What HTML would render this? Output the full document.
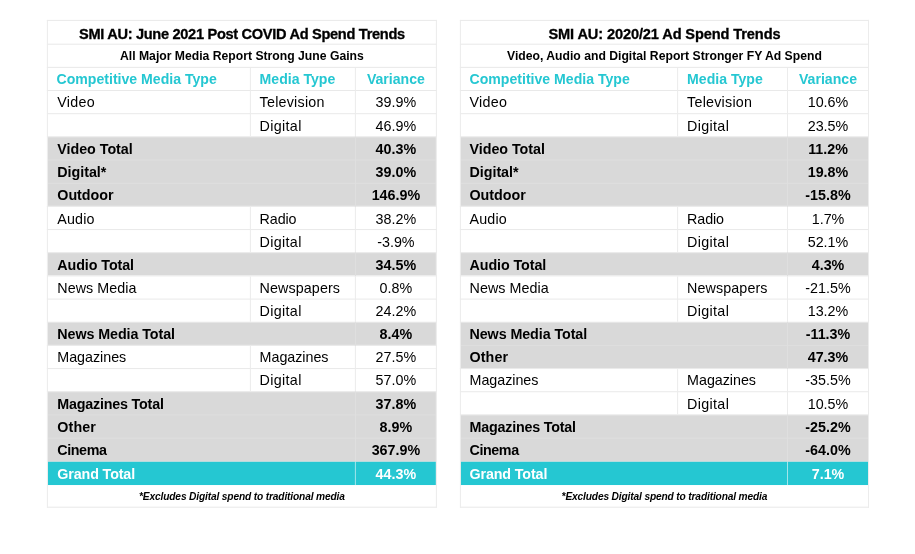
<!DOCTYPE html><html lang="en"><head><meta charset="utf-8"><title>SMI AU Ad Spend Trends</title><style>
html,body{margin:0;padding:0;background:#fff;}
body{width:915px;height:554px;position:relative;overflow:hidden;font-family:"Liberation Sans",sans-serif;color:#000;}
svg.grid{position:absolute;left:0;top:0;}
.tbl{position:absolute;top:0;left:0;}
.txt{position:absolute;white-space:nowrap;height:23px;line-height:23px;font-size:14.3px;}
.title{font-weight:bold;font-size:14.6px;letter-spacing:-0.31px;text-align:center;-webkit-text-stroke:0.3px #000;}
.sub{font-weight:bold;font-size:12.2px;text-align:center;}
.hdr{font-weight:bold;color:#25c7d2;font-size:14.1px;}
.b{font-weight:bold;}
.w{font-weight:bold;color:#fff;}
.c{text-align:center;}
.foot{font-weight:bold;font-style:italic;font-size:10.2px;letter-spacing:-0.15px;text-align:center;}
</style></head><body>
<svg class="grid" width="915" height="554" viewBox="0 0 915 554">
<rect x="47.9" y="136.78" width="388" height="69.11" fill="#d9d9d9"/>
<rect x="47.9" y="252.63" width="388" height="22.77" fill="#d9d9d9"/>
<rect x="47.9" y="322.14" width="388" height="22.77" fill="#d9d9d9"/>
<rect x="47.9" y="391.65" width="388" height="70.11" fill="#d9d9d9"/>
<rect x="47.9" y="461.76" width="388" height="23.27" fill="#25c7d2"/>
<rect x="46.9" y="19.9" width="390" height="1" fill="#e9e9e9"/>
<rect x="46.9" y="43.7" width="390" height="1" fill="#e9e9e9"/>
<rect x="46.9" y="66.87" width="390" height="1" fill="#e9e9e9"/>
<rect x="46.9" y="90.04" width="390" height="1" fill="#e9e9e9"/>
<rect x="46.9" y="113.21" width="390" height="1" fill="#e9e9e9"/>
<rect x="46.9" y="136.38" width="390" height="1" fill="#e9e9e9"/>
<rect x="47.9" y="159.55" width="388" height="1" fill="#dfdfdf"/>
<rect x="47.9" y="182.72" width="388" height="1" fill="#dfdfdf"/>
<rect x="46.9" y="205.89" width="390" height="1" fill="#e9e9e9"/>
<rect x="46.9" y="229.06" width="390" height="1" fill="#e9e9e9"/>
<rect x="46.9" y="252.23" width="390" height="1" fill="#e9e9e9"/>
<rect x="46.9" y="275.4" width="390" height="1" fill="#e9e9e9"/>
<rect x="46.9" y="298.57" width="390" height="1" fill="#e9e9e9"/>
<rect x="46.9" y="321.74" width="390" height="1" fill="#e9e9e9"/>
<rect x="46.9" y="344.91" width="390" height="1" fill="#e9e9e9"/>
<rect x="46.9" y="368.08" width="390" height="1" fill="#e9e9e9"/>
<rect x="46.9" y="391.25" width="390" height="1" fill="#e9e9e9"/>
<rect x="47.9" y="414.42" width="388" height="1" fill="#dfdfdf"/>
<rect x="47.9" y="437.59" width="388" height="1" fill="#dfdfdf"/>
<rect x="46.9" y="506.7" width="390" height="1" fill="#e9e9e9"/>
<rect x="46.9" y="19.9" width="1" height="487.8" fill="#ececec"/>
<rect x="435.9" y="19.9" width="1" height="487.8" fill="#ececec"/>
<rect x="249.9" y="67.87" width="1" height="68.51" fill="#ececec"/>
<rect x="354.9" y="67.87" width="1" height="68.51" fill="#ececec"/>
<rect x="354.9" y="136.38" width="1" height="70.51" fill="#dfdfdf"/>
<rect x="249.9" y="206.89" width="1" height="45.34" fill="#ececec"/>
<rect x="354.9" y="206.89" width="1" height="45.34" fill="#ececec"/>
<rect x="354.9" y="252.23" width="1" height="24.17" fill="#dfdfdf"/>
<rect x="249.9" y="276.4" width="1" height="45.34" fill="#ececec"/>
<rect x="354.9" y="276.4" width="1" height="45.34" fill="#ececec"/>
<rect x="354.9" y="321.74" width="1" height="24.17" fill="#dfdfdf"/>
<rect x="249.9" y="345.91" width="1" height="45.34" fill="#ececec"/>
<rect x="354.9" y="345.91" width="1" height="45.34" fill="#ececec"/>
<rect x="354.9" y="391.25" width="1" height="70.51" fill="#dfdfdf"/>
<rect x="354.9" y="461.76" width="1" height="23.27" fill="#a4e5ea"/>
<rect x="460.5" y="136.78" width="407.5" height="69.11" fill="#d9d9d9"/>
<rect x="460.5" y="252.63" width="407.5" height="22.77" fill="#d9d9d9"/>
<rect x="460.5" y="322.14" width="407.5" height="45.94" fill="#d9d9d9"/>
<rect x="460.5" y="414.82" width="407.5" height="46.94" fill="#d9d9d9"/>
<rect x="460.5" y="461.76" width="407.5" height="23.27" fill="#25c7d2"/>
<rect x="459.9" y="19.9" width="409.1" height="1" fill="#e9e9e9"/>
<rect x="459.9" y="43.7" width="409.1" height="1" fill="#e9e9e9"/>
<rect x="459.9" y="66.87" width="409.1" height="1" fill="#e9e9e9"/>
<rect x="459.9" y="90.04" width="409.1" height="1" fill="#e9e9e9"/>
<rect x="459.9" y="113.21" width="409.1" height="1" fill="#e9e9e9"/>
<rect x="459.9" y="136.38" width="409.1" height="1" fill="#e9e9e9"/>
<rect x="460.9" y="159.55" width="407.1" height="1" fill="#dfdfdf"/>
<rect x="460.9" y="182.72" width="407.1" height="1" fill="#dfdfdf"/>
<rect x="459.9" y="205.89" width="409.1" height="1" fill="#e9e9e9"/>
<rect x="459.9" y="229.06" width="409.1" height="1" fill="#e9e9e9"/>
<rect x="459.9" y="252.23" width="409.1" height="1" fill="#e9e9e9"/>
<rect x="459.9" y="275.4" width="409.1" height="1" fill="#e9e9e9"/>
<rect x="459.9" y="298.57" width="409.1" height="1" fill="#e9e9e9"/>
<rect x="459.9" y="321.74" width="409.1" height="1" fill="#e9e9e9"/>
<rect x="460.9" y="344.91" width="407.1" height="1" fill="#dfdfdf"/>
<rect x="459.9" y="368.08" width="409.1" height="1" fill="#e9e9e9"/>
<rect x="459.9" y="391.25" width="409.1" height="1" fill="#e9e9e9"/>
<rect x="459.9" y="414.42" width="409.1" height="1" fill="#e9e9e9"/>
<rect x="460.9" y="437.59" width="407.1" height="1" fill="#dfdfdf"/>
<rect x="459.9" y="506.7" width="409.1" height="1" fill="#e9e9e9"/>
<rect x="459.9" y="19.9" width="1" height="487.8" fill="#ececec"/>
<rect x="868" y="19.9" width="1" height="487.8" fill="#ececec"/>
<rect x="677.1" y="67.87" width="1" height="68.51" fill="#ececec"/>
<rect x="787" y="67.87" width="1" height="68.51" fill="#ececec"/>
<rect x="787" y="136.38" width="1" height="70.51" fill="#dfdfdf"/>
<rect x="677.1" y="206.89" width="1" height="45.34" fill="#ececec"/>
<rect x="787" y="206.89" width="1" height="45.34" fill="#ececec"/>
<rect x="787" y="252.23" width="1" height="24.17" fill="#dfdfdf"/>
<rect x="677.1" y="276.4" width="1" height="45.34" fill="#ececec"/>
<rect x="787" y="276.4" width="1" height="45.34" fill="#ececec"/>
<rect x="787" y="321.74" width="1" height="47.34" fill="#dfdfdf"/>
<rect x="677.1" y="369.08" width="1" height="45.34" fill="#ececec"/>
<rect x="787" y="369.08" width="1" height="45.34" fill="#ececec"/>
<rect x="787" y="414.42" width="1" height="47.34" fill="#dfdfdf"/>
<rect x="787" y="461.76" width="1" height="23.27" fill="#a4e5ea"/>
</svg>
<section class="tbl">
<div class="txt title" style="left:46.9px;top:23px;width:390px;">SMI AU: June 2021 Post COVID Ad Spend Trends</div>
<div class="txt sub" style="left:46.9px;top:45px;width:390px;">All Major Media Report Strong June Gains</div>
<div class="txt hdr" style="left:56.5px;top:68px;width:203px;">Competitive Media Type</div>
<div class="txt hdr" style="left:259.6px;top:68px;width:105px;">Media Type</div>
<div class="txt hdr c" style="left:354.9px;top:68px;width:82px;">Variance</div>
<div class="txt " style="left:57.3px;top:91px;width:203px;letter-spacing:0.3px;">Video</div>
<div class="txt " style="left:259.6px;top:91px;width:105px;letter-spacing:0.23px;">Television</div>
<div class="txt  c" style="left:354.9px;top:91px;width:82px;">39.9%</div>
<div class="txt " style="left:259.6px;top:115px;width:105px;letter-spacing:0.33px;">Digital</div>
<div class="txt  c" style="left:354.9px;top:115px;width:82px;">46.9%</div>
<div class="txt b" style="left:57.3px;top:138px;width:203px;letter-spacing:-0.03px;">Video Total</div>
<div class="txt b c" style="left:354.9px;top:138px;width:82px;">40.3%</div>
<div class="txt b" style="left:57.3px;top:161px;width:203px;letter-spacing:-0.03px;">Digital*</div>
<div class="txt b c" style="left:354.9px;top:161px;width:82px;">39.0%</div>
<div class="txt b" style="left:57.3px;top:184px;width:203px;letter-spacing:-0.03px;">Outdoor</div>
<div class="txt b c" style="left:354.9px;top:184px;width:82px;">146.9%</div>
<div class="txt " style="left:57.3px;top:208px;width:203px;letter-spacing:0.17px;">Audio</div>
<div class="txt " style="left:259.6px;top:208px;width:105px;letter-spacing:-0.12px;">Radio</div>
<div class="txt  c" style="left:354.9px;top:208px;width:82px;">38.2%</div>
<div class="txt " style="left:259.6px;top:231px;width:105px;letter-spacing:0.33px;">Digital</div>
<div class="txt  c" style="left:354.9px;top:231px;width:82px;">-3.9%</div>
<div class="txt b" style="left:57.3px;top:254px;width:203px;letter-spacing:-0.08px;">Audio Total</div>
<div class="txt b c" style="left:354.9px;top:254px;width:82px;">34.5%</div>
<div class="txt " style="left:57.3px;top:277px;width:203px;letter-spacing:0.06px;">News Media</div>
<div class="txt " style="left:259.6px;top:277px;width:105px;letter-spacing:0.1px;">Newspapers</div>
<div class="txt  c" style="left:354.9px;top:277px;width:82px;">0.8%</div>
<div class="txt " style="left:259.6px;top:300px;width:105px;letter-spacing:0.33px;">Digital</div>
<div class="txt  c" style="left:354.9px;top:300px;width:82px;">24.2%</div>
<div class="txt b" style="left:57.3px;top:323px;width:203px;letter-spacing:-0.08px;">News Media Total</div>
<div class="txt b c" style="left:354.9px;top:323px;width:82px;">8.4%</div>
<div class="txt " style="left:57.3px;top:346px;width:203px;letter-spacing:-0.03px;">Magazines</div>
<div class="txt " style="left:259.6px;top:346px;width:105px;letter-spacing:-0.03px;">Magazines</div>
<div class="txt  c" style="left:354.9px;top:346px;width:82px;">27.5%</div>
<div class="txt " style="left:259.6px;top:369px;width:105px;letter-spacing:0.33px;">Digital</div>
<div class="txt  c" style="left:354.9px;top:369px;width:82px;">57.0%</div>
<div class="txt b" style="left:57.3px;top:393px;width:203px;letter-spacing:-0.2px;">Magazines Total</div>
<div class="txt b c" style="left:354.9px;top:393px;width:82px;">37.8%</div>
<div class="txt b" style="left:57.3px;top:416px;width:203px;letter-spacing:0.1px;">Other</div>
<div class="txt b c" style="left:354.9px;top:416px;width:82px;">8.9%</div>
<div class="txt b" style="left:57.3px;top:439px;width:203px;letter-spacing:-0.41px;">Cinema</div>
<div class="txt b c" style="left:354.9px;top:439px;width:82px;">367.9%</div>
<div class="txt w" style="left:57.3px;top:463px;width:203px;letter-spacing:-0.13px;">Grand Total</div>
<div class="txt w c" style="left:354.9px;top:463px;width:82px;">44.3%</div>
<div class="txt foot" style="left:46.9px;top:485px;width:390px;">*Excludes Digital spend to traditional media</div>
</section>
<section class="tbl">
<div class="txt title" style="left:459.9px;top:23px;width:409.1px;letter-spacing:-0.12px;">SMI AU: 2020/21 Ad Spend Trends</div>
<div class="txt sub" style="left:459.9px;top:45px;width:409.1px;">Video, Audio and Digital Report Stronger FY Ad Spend</div>
<div class="txt hdr" style="left:469.5px;top:68px;width:217.2px;">Competitive Media Type</div>
<div class="txt hdr" style="left:687.1px;top:68px;width:109.9px;">Media Type</div>
<div class="txt hdr c" style="left:787px;top:68px;width:82px;">Variance</div>
<div class="txt " style="left:469.5px;top:91px;width:217.2px;letter-spacing:0.3px;">Video</div>
<div class="txt " style="left:687.1px;top:91px;width:109.9px;letter-spacing:0.23px;">Television</div>
<div class="txt  c" style="left:787px;top:91px;width:82px;">10.6%</div>
<div class="txt " style="left:687.1px;top:115px;width:109.9px;letter-spacing:0.33px;">Digital</div>
<div class="txt  c" style="left:787px;top:115px;width:82px;">23.5%</div>
<div class="txt b" style="left:469.5px;top:138px;width:217.2px;letter-spacing:-0.03px;">Video Total</div>
<div class="txt b c" style="left:787px;top:138px;width:82px;">11.2%</div>
<div class="txt b" style="left:469.5px;top:161px;width:217.2px;letter-spacing:-0.03px;">Digital*</div>
<div class="txt b c" style="left:787px;top:161px;width:82px;">19.8%</div>
<div class="txt b" style="left:469.5px;top:184px;width:217.2px;letter-spacing:-0.03px;">Outdoor</div>
<div class="txt b c" style="left:787px;top:184px;width:82px;">-15.8%</div>
<div class="txt " style="left:469.5px;top:208px;width:217.2px;letter-spacing:0.17px;">Audio</div>
<div class="txt " style="left:687.1px;top:208px;width:109.9px;letter-spacing:-0.12px;">Radio</div>
<div class="txt  c" style="left:787px;top:208px;width:82px;">1.7%</div>
<div class="txt " style="left:687.1px;top:231px;width:109.9px;letter-spacing:0.33px;">Digital</div>
<div class="txt  c" style="left:787px;top:231px;width:82px;">52.1%</div>
<div class="txt b" style="left:469.5px;top:254px;width:217.2px;letter-spacing:-0.08px;">Audio Total</div>
<div class="txt b c" style="left:787px;top:254px;width:82px;">4.3%</div>
<div class="txt " style="left:469.5px;top:277px;width:217.2px;letter-spacing:0.06px;">News Media</div>
<div class="txt " style="left:687.1px;top:277px;width:109.9px;letter-spacing:0.1px;">Newspapers</div>
<div class="txt  c" style="left:787px;top:277px;width:82px;">-21.5%</div>
<div class="txt " style="left:687.1px;top:300px;width:109.9px;letter-spacing:0.33px;">Digital</div>
<div class="txt  c" style="left:787px;top:300px;width:82px;">13.2%</div>
<div class="txt b" style="left:469.5px;top:323px;width:217.2px;letter-spacing:-0.08px;">News Media Total</div>
<div class="txt b c" style="left:787px;top:323px;width:82px;">-11.3%</div>
<div class="txt b" style="left:469.5px;top:346px;width:217.2px;letter-spacing:0.1px;">Other</div>
<div class="txt b c" style="left:787px;top:346px;width:82px;">47.3%</div>
<div class="txt " style="left:469.5px;top:369px;width:217.2px;letter-spacing:-0.03px;">Magazines</div>
<div class="txt " style="left:687.1px;top:369px;width:109.9px;letter-spacing:-0.03px;">Magazines</div>
<div class="txt  c" style="left:787px;top:369px;width:82px;">-35.5%</div>
<div class="txt " style="left:687.1px;top:393px;width:109.9px;letter-spacing:0.33px;">Digital</div>
<div class="txt  c" style="left:787px;top:393px;width:82px;">10.5%</div>
<div class="txt b" style="left:469.5px;top:416px;width:217.2px;letter-spacing:-0.2px;">Magazines Total</div>
<div class="txt b c" style="left:787px;top:416px;width:82px;">-25.2%</div>
<div class="txt b" style="left:469.5px;top:439px;width:217.2px;letter-spacing:-0.41px;">Cinema</div>
<div class="txt b c" style="left:787px;top:439px;width:82px;">-64.0%</div>
<div class="txt w" style="left:469.5px;top:463px;width:217.2px;letter-spacing:-0.13px;">Grand Total</div>
<div class="txt w c" style="left:787px;top:463px;width:82px;">7.1%</div>
<div class="txt foot" style="left:459.9px;top:485px;width:409.1px;">*Excludes Digital spend to traditional media</div>
</section>
</body></html>
